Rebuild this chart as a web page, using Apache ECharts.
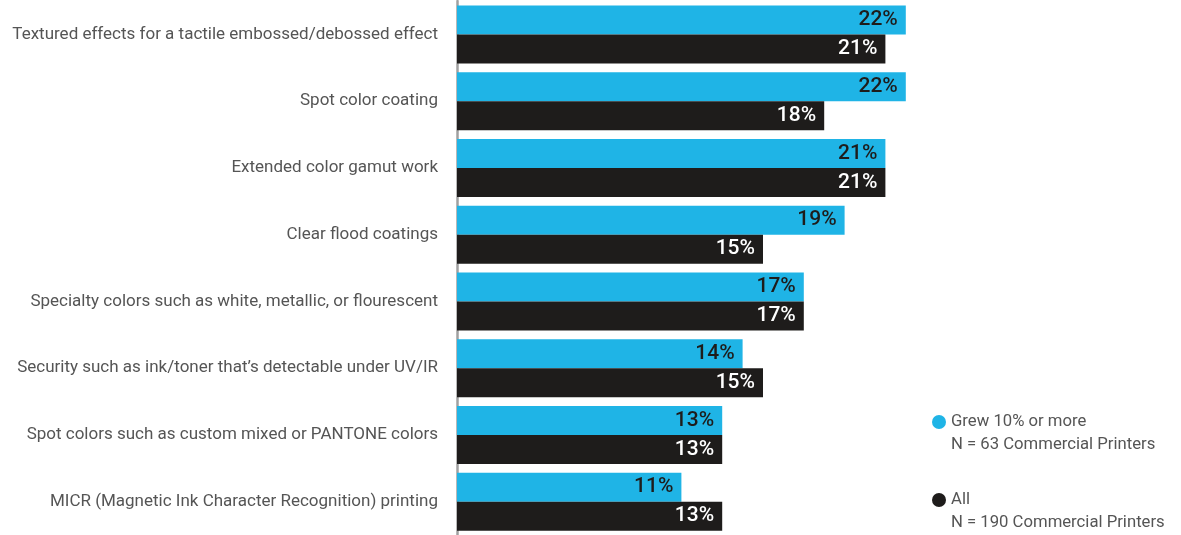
<!DOCTYPE html>
<html>
<head>
<meta charset="utf-8">
<script src="https://cdn.jsdelivr.net/npm/echarts@6/dist/echarts.min.js"></script>
<style>
html,body{margin:0;padding:0;background:#fff;}
#chart{width:1181px;height:535px;}
</style>
</head>
<body>
<div id="chart"></div>
<script>
// Print enhancement capabilities, share of respondents (%)
const categories = [
  'Textured effects for a tactile embossed/debossed effect',
  'Spot color coating',
  'Extended color gamut work',
  'Clear flood coatings',
  'Specialty colors such as white, metallic, or flourescent',
  'Security such as ink/toner that\u2019s detectable under UV/IR',
  'Spot colors such as custom mixed or PANTONE colors',
  'MICR (Magnetic Ink Character Recognition) printing'
];
const grewValues = [22, 22, 21, 19, 17, 14, 13, 11];
const allValues  = [21, 18, 21, 15, 17, 15, 13, 13];
const seriesNames = ['Grew 10% or more', 'All'];
const seriesNotes = ['N = 63 Commercial Printers', 'N = 190 Commercial Printers'];

const BLUE = '#1fb4e6';
const DARK = '#1e1c1b';
const FONT = 'Roboto';

const chart = echarts.init(document.getElementById('chart'));

function barSeries(name, data, color, labelColor) {
  return {
    name: name,
    type: 'bar',
    data: data,
    barWidth: 29,
    barGap: '0%',
    itemStyle: { color: color },
    label: {
      show: true,
      position: 'insideRight',
      distance: 8,
      formatter: '{c}%',
      color: labelColor,
      fontFamily: FONT,
      fontWeight: 500,
      fontSize: 21
    },
    animation: false
  };
}

chart.setOption({
  backgroundColor: '#ffffff',
  animation: false,
  grid: { left: 457, right: 214, top: 1, bottom: 0, containLabel: false },
  xAxis: {
    type: 'value',
    min: 0,
    max: 25,
    show: false
  },
  yAxis: {
    type: 'category',
    inverse: true,
    data: categories,
    axisLine: { show: true, lineStyle: { color: '#a0a0a0', width: 2.5 } },
    axisTick: { show: false },
    axisLabel: {
      color: '#555555',
      fontFamily: FONT,
      fontSize: 17,
      margin: 19
    }
  },
  series: [
    barSeries(seriesNames[0], grewValues, BLUE, DARK),
    barSeries(seriesNames[1], allValues, DARK, '#ffffff')
  ],
  graphic: [
    { type: 'circle', shape: { cx: 939, cy: 422, r: 7 }, style: { fill: BLUE } },
    { type: 'text', x: 951, y: 422, style: { text: seriesNames[0], fill: '#555555', font: '16.7px ' + FONT, verticalAlign: 'middle' } },
    { type: 'text', x: 951, y: 445, style: { text: seriesNotes[0], fill: '#555555', font: '16.7px ' + FONT, verticalAlign: 'middle' } },
    { type: 'circle', shape: { cx: 939, cy: 500, r: 7 }, style: { fill: DARK } },
    { type: 'text', x: 951, y: 500, style: { text: seriesNames[1], fill: '#555555', font: '16.7px ' + FONT, verticalAlign: 'middle' } },
    { type: 'text', x: 951, y: 523, style: { text: seriesNotes[1], fill: '#555555', font: '16.7px ' + FONT, verticalAlign: 'middle' } }
  ]
});
</script>
</body>
</html>
